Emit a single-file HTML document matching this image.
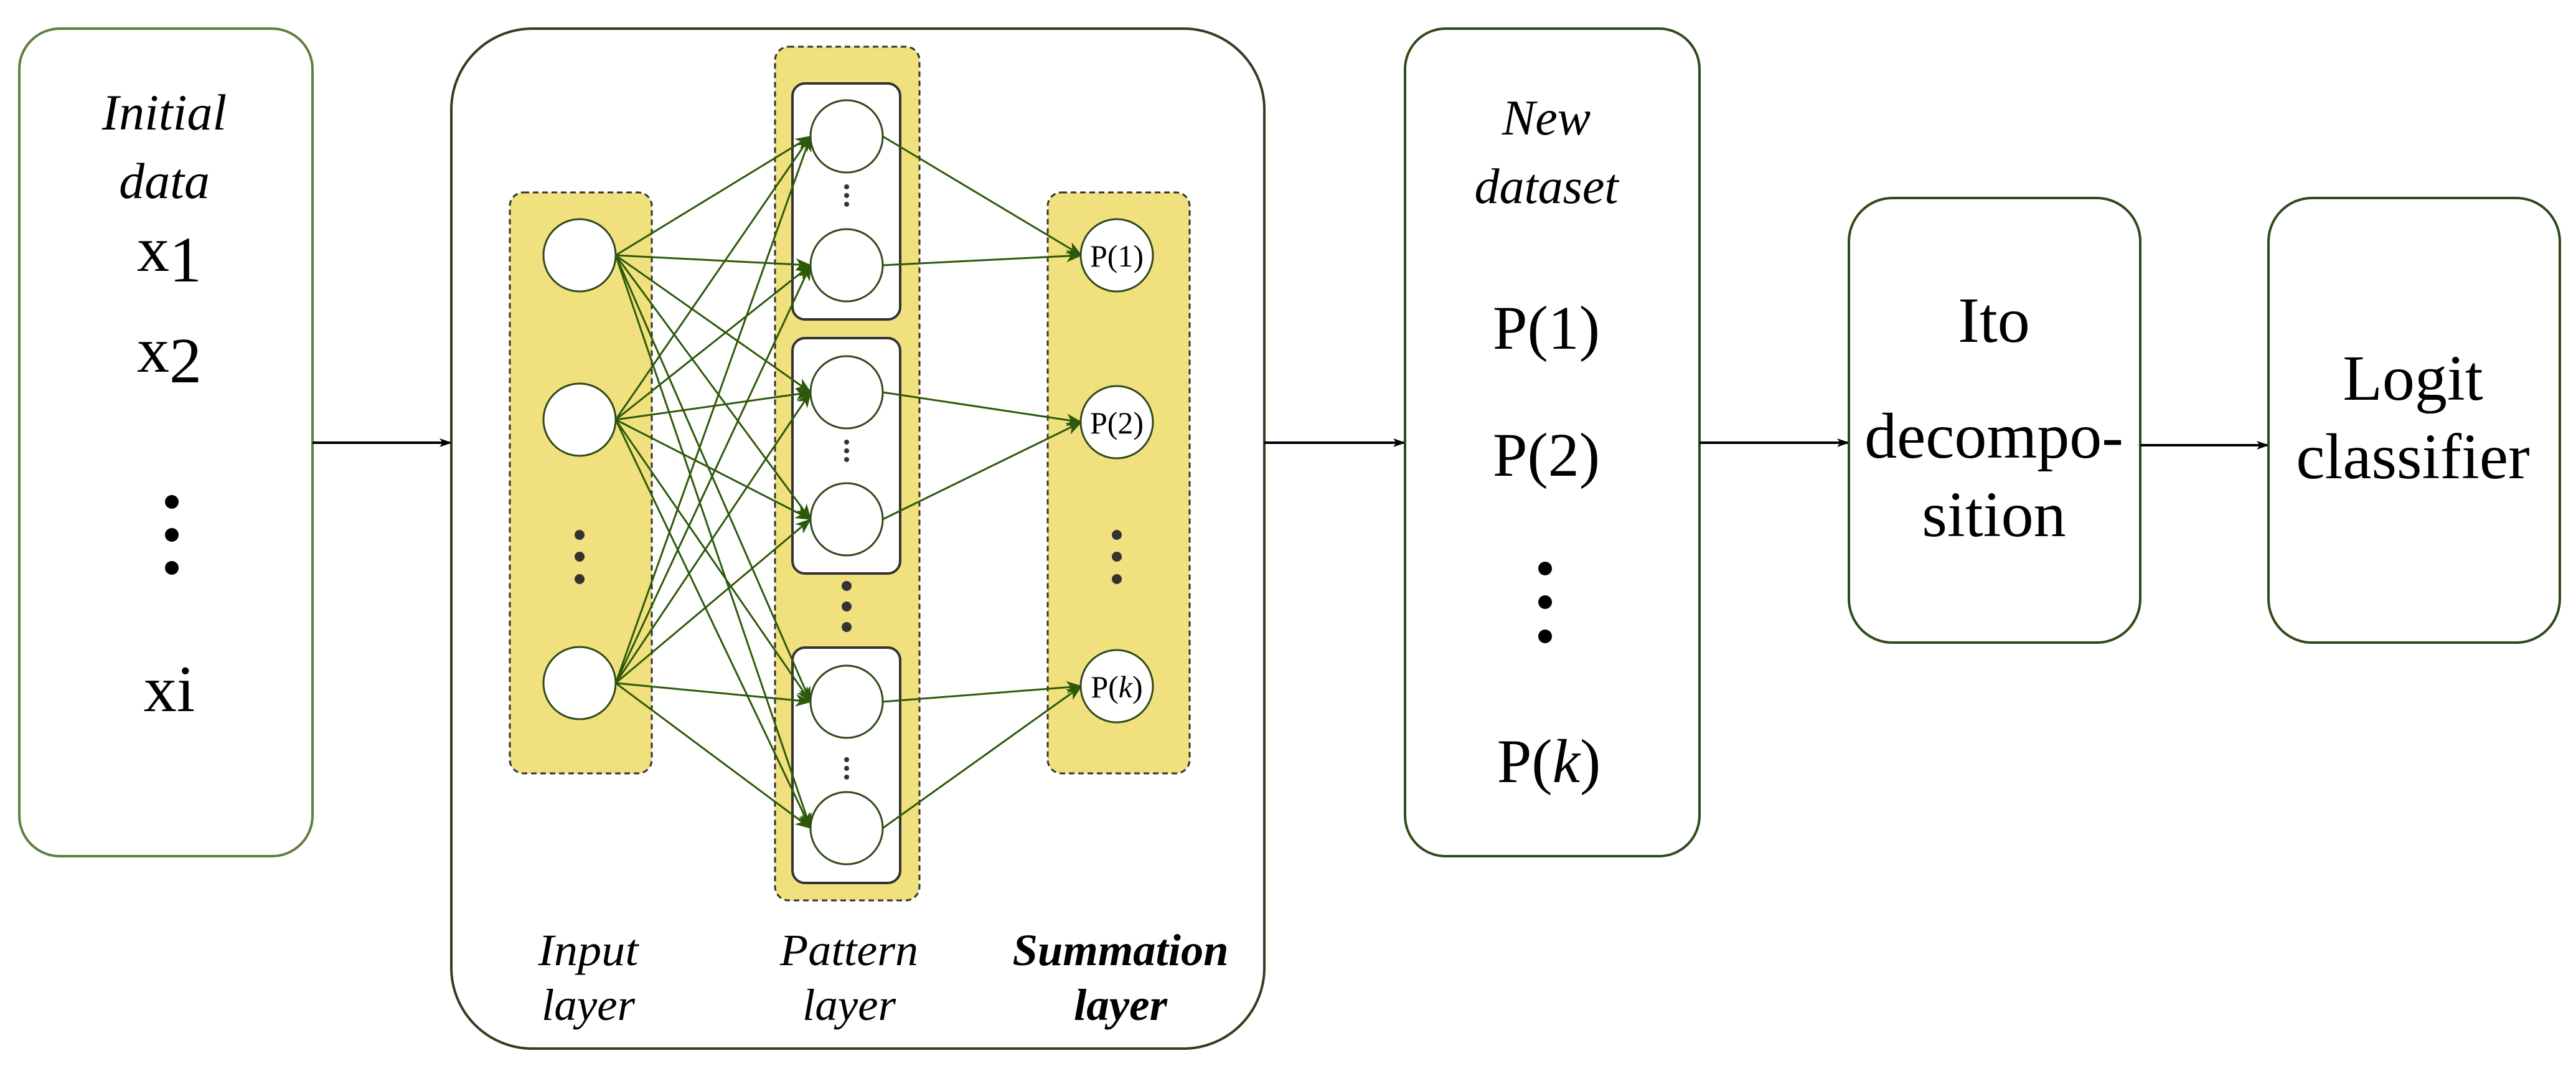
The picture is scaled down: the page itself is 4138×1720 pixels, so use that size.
<!DOCTYPE html>
<html><head><meta charset="utf-8"><style>
html,body{margin:0;padding:0;background:#fff;width:4138px;height:1720px;overflow:hidden}
svg{display:block;font-family:"Liberation Serif","DejaVu Serif","Times New Roman",serif}
svg text{font-family:"Liberation Serif","DejaVu Serif","Times New Roman",serif;fill:#000}
</style></head><body>
<svg width="4138" height="1720" viewBox="0 0 4138 1720" xmlns="http://www.w3.org/2000/svg" font-family="'Liberation Serif', 'DejaVu Serif', serif">
<defs>
<marker id="ag" markerWidth="26" markerHeight="22" refX="24" refY="11" orient="auto" markerUnits="userSpaceOnUse" viewBox="0 0 26 22">
<path d="M0,1 L26,11 L0,21 L7,11 Z" fill="#2d5a0a"/></marker>
<marker id="ab2" markerWidth="20" markerHeight="16" refX="19" refY="8" orient="auto" markerUnits="userSpaceOnUse" viewBox="0 0 20 16">
<path d="M0,1 L20,8 L0,15 L5,8 Z" fill="#000"/></marker>
</defs>

<rect x="31" y="46" width="471" height="1329" rx="65" fill="#fff" stroke="#5f7f3f" stroke-width="4"/>
<text x="264" y="208" font-size="82" font-style="italic" text-anchor="middle">Initial</text>
<text x="264" y="318" font-size="82" font-style="italic" text-anchor="middle">data</text>
<text x="272" y="435" font-size="104" text-anchor="middle">x<tspan dy="17">1</tspan></text>
<text x="272" y="597" font-size="104" text-anchor="middle">x<tspan dy="17">2</tspan></text>
<circle cx="276" cy="806" r="11"/><circle cx="276" cy="859" r="11"/><circle cx="276" cy="912" r="11"/>
<text x="272" y="1142" font-size="106" text-anchor="middle">xi</text>

<line x1="502" y1="711" x2="725" y2="711" stroke="#000" stroke-width="4" marker-end="url(#ab2)"/>

<rect x="725" y="46" width="1306" height="1638" rx="130" fill="#fff" stroke="#2f3f1f" stroke-width="4"/>

<rect x="819" y="309" width="228" height="933" rx="22" fill="#f1e07e" stroke="#333" stroke-width="3" stroke-dasharray="9,6"/>
<rect x="1245" y="75" width="232" height="1371" rx="22" fill="#f1e07e" stroke="#333" stroke-width="3" stroke-dasharray="9,6"/>
<rect x="1683" y="309" width="228" height="933" rx="22" fill="#f1e07e" stroke="#333" stroke-width="3" stroke-dasharray="9,6"/>

<rect x="1273" y="134" width="173" height="379" rx="20" fill="#fff" stroke="#333" stroke-width="4"/>
<rect x="1273" y="543" width="173" height="378" rx="20" fill="#fff" stroke="#333" stroke-width="4"/>
<rect x="1273" y="1040" width="173" height="378" rx="20" fill="#fff" stroke="#333" stroke-width="4"/>

<g fill="#333">
<circle cx="1360" cy="300" r="4"/><circle cx="1360" cy="314" r="4"/><circle cx="1360" cy="328" r="4"/>
<circle cx="1360" cy="710" r="4"/><circle cx="1360" cy="724" r="4"/><circle cx="1360" cy="738" r="4"/>
<circle cx="1360" cy="1220" r="4"/><circle cx="1360" cy="1234" r="4"/><circle cx="1360" cy="1248" r="4"/>
<circle cx="1360" cy="941" r="8"/><circle cx="1360" cy="974" r="8"/><circle cx="1360" cy="1007" r="8"/>
<circle cx="931" cy="859" r="8"/><circle cx="931" cy="894" r="8"/><circle cx="931" cy="930" r="8"/>
<circle cx="1794" cy="859" r="8"/><circle cx="1794" cy="894" r="8"/><circle cx="1794" cy="930" r="8"/>
</g>

<g stroke="#2d5a0a" stroke-width="3" fill="none" marker-end="url(#ag)">
<line x1="989" y1="410" x2="1302" y2="219"/><line x1="989" y1="410" x2="1302" y2="426"/><line x1="989" y1="410" x2="1302" y2="630"/><line x1="989" y1="410" x2="1302" y2="834"/><line x1="989" y1="410" x2="1302" y2="1127"/><line x1="989" y1="410" x2="1302" y2="1330"/>
<line x1="989" y1="674" x2="1302" y2="219"/><line x1="989" y1="674" x2="1302" y2="426"/><line x1="989" y1="674" x2="1302" y2="630"/><line x1="989" y1="674" x2="1302" y2="834"/><line x1="989" y1="674" x2="1302" y2="1127"/><line x1="989" y1="674" x2="1302" y2="1330"/>
<line x1="989" y1="1097" x2="1302" y2="219"/><line x1="989" y1="1097" x2="1302" y2="426"/><line x1="989" y1="1097" x2="1302" y2="630"/><line x1="989" y1="1097" x2="1302" y2="834"/><line x1="989" y1="1097" x2="1302" y2="1127"/><line x1="989" y1="1097" x2="1302" y2="1330"/>
<line x1="1418" y1="219" x2="1737" y2="410"/><line x1="1418" y1="426" x2="1737" y2="410"/>
<line x1="1418" y1="630" x2="1737" y2="678"/><line x1="1418" y1="834" x2="1737" y2="678"/>
<line x1="1418" y1="1127" x2="1737" y2="1102"/><line x1="1418" y1="1330" x2="1737" y2="1102"/>
</g>

<g fill="#fff" stroke="#2f4a1a" stroke-width="3">
<circle cx="931" cy="410" r="58"/><circle cx="931" cy="674" r="58"/><circle cx="931" cy="1097" r="58"/>
<circle cx="1360" cy="219" r="58"/><circle cx="1360" cy="426" r="58"/><circle cx="1360" cy="630" r="58"/><circle cx="1360" cy="834" r="58"/><circle cx="1360" cy="1127" r="58"/><circle cx="1360" cy="1330" r="58"/>
<circle cx="1794" cy="410" r="58"/><circle cx="1794" cy="678" r="58"/><circle cx="1794" cy="1102" r="58"/>
</g>
<text x="1794" y="428" font-size="50" text-anchor="middle">P(1)</text>
<text x="1794" y="696" font-size="50" text-anchor="middle">P(2)</text>
<text x="1794" y="1120" font-size="50" text-anchor="middle">P(<tspan font-style="italic">k</tspan>)</text>

<text x="945" y="1550" font-size="72" font-style="italic" text-anchor="middle" textLength="161" lengthAdjust="spacingAndGlyphs">Input</text>
<text x="945" y="1638" font-size="72" font-style="italic" text-anchor="middle" textLength="150" lengthAdjust="spacingAndGlyphs">layer</text>
<text x="1364" y="1550" font-size="72" font-style="italic" text-anchor="middle" textLength="222" lengthAdjust="spacingAndGlyphs">Pattern</text>
<text x="1364" y="1638" font-size="72" font-style="italic" text-anchor="middle" textLength="150" lengthAdjust="spacingAndGlyphs">layer</text>
<text x="1800" y="1550" font-size="72" font-style="italic" font-weight="bold" text-anchor="middle" textLength="347" lengthAdjust="spacingAndGlyphs">Summation</text>
<text x="1800" y="1638" font-size="72" font-style="italic" font-weight="bold" text-anchor="middle" textLength="150" lengthAdjust="spacingAndGlyphs">layer</text>

<line x1="2031" y1="711" x2="2257" y2="711" stroke="#000" stroke-width="4" marker-end="url(#ab2)"/>

<rect x="2257" y="46" width="473" height="1329" rx="65" fill="#fff" stroke="#2f4a1a" stroke-width="4"/>
<text x="2484" y="216" font-size="80" font-style="italic" text-anchor="middle">New</text>
<text x="2484" y="326" font-size="80" font-style="italic" text-anchor="middle">dataset</text>
<text x="2484" y="560" font-size="100" text-anchor="middle">P(1)</text>
<text x="2484" y="764" font-size="100" text-anchor="middle">P(2)</text>
<circle cx="2482" cy="913" r="11"/><circle cx="2482" cy="967" r="11"/><circle cx="2482" cy="1022" r="11"/>
<text x="2488" y="1256" font-size="100" text-anchor="middle">P(<tspan font-style="italic">k</tspan>)</text>

<line x1="2730" y1="711" x2="2970" y2="711" stroke="#000" stroke-width="4" marker-end="url(#ab2)"/>

<rect x="2970" y="318" width="468" height="714" rx="70" fill="#fff" stroke="#2f4a1a" stroke-width="4"/>
<text x="3203" y="549" font-size="104" text-anchor="middle">Ito</text>
<text x="3203" y="735" font-size="104" text-anchor="middle">decompo-</text>
<text x="3203" y="861" font-size="104" text-anchor="middle">sition</text>

<line x1="3438" y1="715" x2="3644" y2="715" stroke="#000" stroke-width="4" marker-end="url(#ab2)"/>

<rect x="3644" y="318" width="468" height="714" rx="70" fill="#fff" stroke="#2f4a1a" stroke-width="4"/>
<text x="3876" y="642" font-size="104" text-anchor="middle">Logit</text>
<text x="3876" y="768" font-size="104" text-anchor="middle">classifier</text>
</svg>
</body></html>
